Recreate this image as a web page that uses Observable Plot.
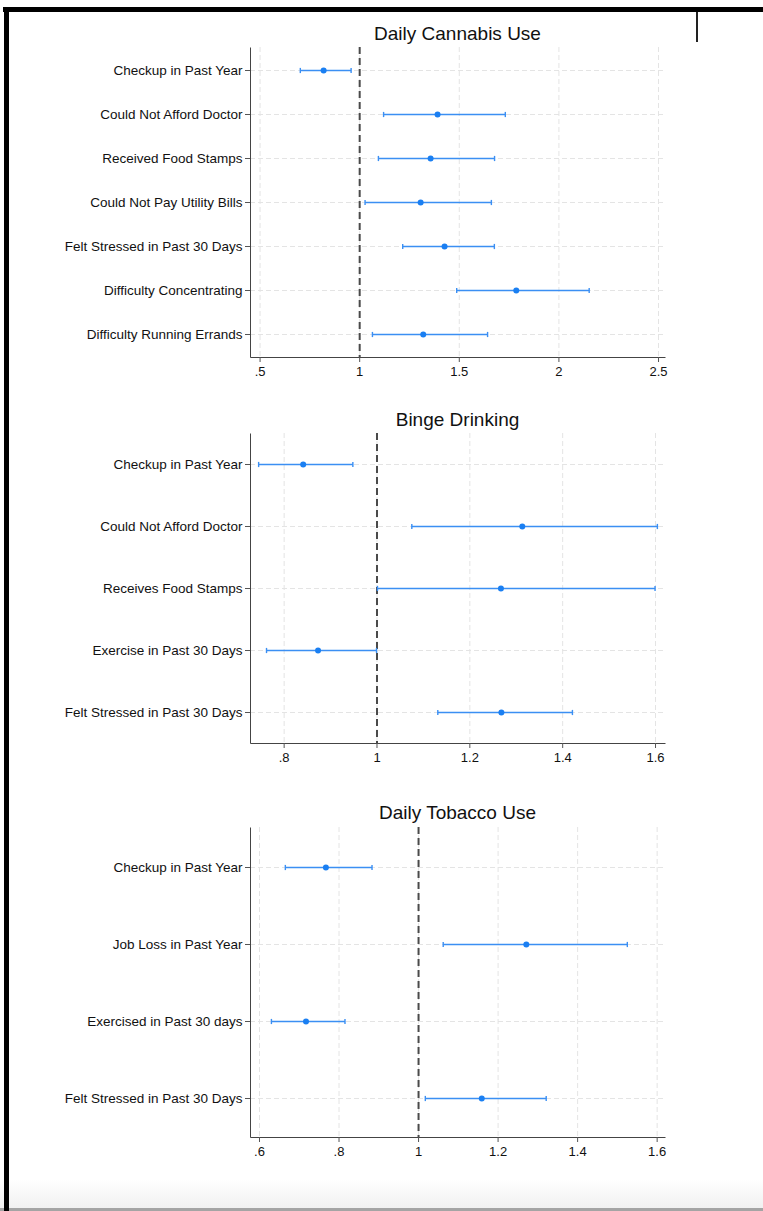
<!DOCTYPE html>
<html>
<head>
<meta charset="utf-8">
<script src="https://cdn.jsdelivr.net/npm/d3@7"></script>
<script src="https://cdn.jsdelivr.net/npm/@observablehq/plot@0.6"></script>
<style>
  html, body { margin: 0; padding: 0; background: #fff; }
  #page { position: relative; width: 763px; height: 1211px; overflow: hidden; font-family: "Liberation Sans", Arial, Helvetica, sans-serif; }
  .abs { position: absolute; }
  .title { position: absolute; font-size: 19px; color: #111; text-align: center; width: 415px; left: 250px; line-height: 20px; }
</style>
</head>
<body>
<div id="page"></div>
<script>
// ---------- Data ----------
const cannabisLabels = ["Checkup in Past Year", "Could Not Afford Doctor", "Received Food Stamps", "Could Not Pay Utility Bills", "Felt Stressed in Past 30 Days", "Difficulty Concentrating", "Difficulty Running Errands"];
const cannabisEst = [0.819, 1.391, 1.356, 1.306, 1.426, 1.786, 1.319];
const cannabisLo  = [0.702, 1.120, 1.094, 1.027, 1.216, 1.487, 1.064];
const cannabisHi  = [0.957, 1.731, 1.677, 1.661, 1.676, 2.152, 1.642];
const cannabisTicks = [0.5, 1, 1.5, 2, 2.5];

const bingeLabels = ["Checkup in Past Year", "Could Not Afford Doctor", "Receives Food Stamps", "Exercise in Past 30 Days", "Felt Stressed in Past 30 Days"];
const bingeEst = [0.841, 1.313, 1.267, 0.873, 1.268];
const bingeLo  = [0.745, 1.075, 1.001, 0.762, 1.131];
const bingeHi  = [0.948, 1.604, 1.599, 0.999, 1.421];
const bingeTicks = [0.8, 1, 1.2, 1.4, 1.6];

const tobaccoLabels = ["Checkup in Past Year", "Job Loss in Past Year", "Exercised in Past 30 days", "Felt Stressed in Past 30 Days"];
const tobaccoEst = [0.767, 1.271, 0.717, 1.159];
const tobaccoLo  = [0.665, 1.062, 0.630, 1.017];
const tobaccoHi  = [0.883, 1.525, 0.815, 1.321];
const tobaccoTicks = [0.6, 0.8, 1, 1.2, 1.4, 1.6];

const titles = ["Daily Cannabis Use", "Binge Drinking", "Daily Tobacco Use"];

// ---------- Layout ----------
const page = document.getElementById("page");
function box(l, t, w, h, bg) {
  const d = document.createElement("div");
  d.className = "abs";
  Object.assign(d.style, { left: l + "px", top: t + "px", width: w + "px", height: h + "px", background: bg });
  page.appendChild(d);
}
// screenshot frame
box(0, 1180, 763, 28, "linear-gradient(#ffffff, #f1f1f1)");
box(0, 1208, 763, 3, "#a4a4a4");
box(3, 7, 760, 5, "#000");
box(4, 7, 5, 1204, "#000");
box(696, 12, 2, 30, "#222");

const BLUE_LINE = "#3b8ff3";
const BLUE_DOT = "#1a7ff2";
const GRID = "#e4e4e4";
const fmt = d => (d < 1 ? String(d).replace(/^0/, "") : String(d));
const cap = { draw(ctx) { ctx.moveTo(0, -2.6); ctx.lineTo(0, 2.6); } };

const W = 763, ML = 250, MR = 98, MT = 10, MB = 40, IH = 310;

function panel(labels, est, lo, hi, ticks, domain, axisTop, title, titleY) {
  const data = labels.map((label, i) => ({ label, est: est[i], lo: lo[i], hi: hi[i] }));
  const IW = W - ML - MR;
  const plot = Plot.plot({
    width: W,
    height: IH + MT + MB,
    marginLeft: ML,
    marginRight: MR,
    marginTop: MT,
    marginBottom: MB,
    style: { fontFamily: '"Liberation Sans", Arial, Helvetica, sans-serif', background: "transparent", color: "#111", overflow: "visible" },
    x: { domain, ticks, tickFormat: fmt, label: null },
    y: { type: "point", domain: labels, padding: 0.5, label: null },
    marks: [
      Plot.ruleX(ticks, { stroke: GRID, strokeWidth: 1, strokeDasharray: "5,3" }),
      Plot.ruleY(labels, { stroke: GRID, strokeWidth: 1, strokeDasharray: "5,3" }),
      Plot.ruleX([1], { stroke: "#4a4a4a", strokeWidth: 2, strokeDasharray: "7,4" }),
      Plot.link(data, { x1: "lo", x2: "hi", y1: "label", y2: "label", stroke: BLUE_LINE, strokeWidth: 1.7 }),
      Plot.dot(data, { x: "lo", y: "label", symbol: cap, stroke: BLUE_LINE, strokeWidth: 1.4, fill: "none" }),
      Plot.dot(data, { x: "hi", y: "label", symbol: cap, stroke: BLUE_LINE, strokeWidth: 1.4, fill: "none" }),
      Plot.dot(data, { x: "est", y: "label", r: 3, fill: BLUE_DOT, stroke: "none" }),
      // left + bottom axis lines (frame with only bottom and left edges stroked)
      Plot.frame({ stroke: "#444", strokeWidth: 1, strokeDasharray: `0 ${IW + IH} ${IW + IH}` }),
      Plot.axisY({ tickSize: 5, tickPadding: 3, fontSize: 13.5, stroke: "#555", label: null }),
      Plot.axisX({ ticks, tickFormat: fmt, tickSize: 5, tickPadding: 4, fontSize: 13, stroke: "#555", label: null })
    ]
  });
  plot.style.position = "absolute";
  plot.style.left = "0px";
  plot.style.top = (axisTop - MT) + "px";
  page.appendChild(plot);
  const t = document.createElement("div");
  t.className = "title";
  t.style.top = (titleY - 10) + "px";
  t.textContent = title;
  page.appendChild(t);
}

panel(cannabisLabels, cannabisEst, cannabisLo, cannabisHi, cannabisTicks, [0.452, 2.535], 47, titles[0], 34);
panel(bingeLabels, bingeEst, bingeLo, bingeHi, bingeTicks, [0.7275, 1.6215], 433, titles[1], 420);
panel(tobaccoLabels, tobaccoEst, tobaccoLo, tobaccoHi, tobaccoTicks, [0.5774, 1.621], 827, titles[2], 813);
</script>
</body>
</html>
